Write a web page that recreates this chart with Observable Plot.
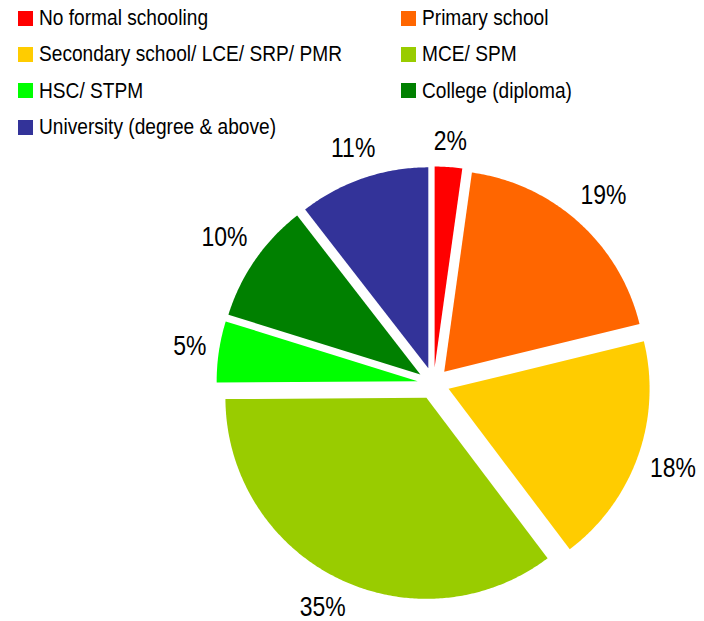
<!DOCTYPE html>
<html>
<head>
<meta charset="utf-8">
<script src="https://cdn.jsdelivr.net/npm/d3@7"></script>
<script src="https://cdn.jsdelivr.net/npm/@observablehq/plot@0.6"></script>
<style>
html, body { margin: 0; padding: 0; background: #fff; }
#chart { position: relative; width: 704px; height: 621px; overflow: hidden;
  font-family: "Liberation Sans", Arial, sans-serif; }
#legend { position: absolute; left: 18px; top: 0; display: grid;
  grid-template-columns: 383px 300px; grid-auto-rows: 36.3px; align-items: center;
  font-size: 22.5px; color: #000; }
.item { display: flex; align-items: center; white-space: nowrap; }
.sw { width: 15px; height: 15px; margin-right: 6px; flex: none; }
.lt { display: inline-block; transform: scaleX(0.85); transform-origin: 0 50%; }
</style>
</head>
<body>
<div id="chart"><div id="legend"></div></div>
<script>
// ---- data ----
const categories = [
  "No formal schooling",
  "Primary school",
  "Secondary school/ LCE/ SRP/ PMR",
  "MCE/ SPM",
  "HSC/ STPM",
  "College (diploma)",
  "University (degree & above)"
];
const values = [2.2, 19.0, 18.5, 35.2, 4.9, 9.7, 10.5];
const percentLabels = ["2%", "19%", "18%", "35%", "5%", "10%", "11%"];
const colors = ["#FF0000", "#FF6600", "#FFCC00", "#99CC00", "#00FF00", "#008000", "#333399"];

// ---- layout ----
const W = 704, H = 621;
const R = 201;            // pie radius in px
const CX = 433, CY = 383; // pie centre in px
const EXPLODE = 16;       // explosion in px
const LABEL_GAP = 11;
const LABEL_FS = 28;
const LABEL_DY = 8;
const SQUEEZE = 0.82;     // horizontal compression of the label font
const FONT = '"Liberation Sans", Arial, sans-serif';

const arcs = d3.pie().sort(null).value(d => d)(values);

// slice outlines in pie units (radius = 1, y up)
const pts = [];
const lbls = [];
arcs.forEach((a, i) => {
  const name = categories[i];
  const mid = (a.startAngle + a.endAngle) / 2;
  const e = EXPLODE / R;
  const ox = e * Math.sin(mid), oy = e * Math.cos(mid);
  pts.push({name, x: ox, y: oy});
  const n = Math.max(4, Math.ceil((a.endAngle - a.startAngle) / 0.01));
  for (let k = 0; k <= n; k++) {
    const t = a.startAngle + (a.endAngle - a.startAngle) * k / n;
    pts.push({name, x: ox + Math.sin(t), y: oy + Math.cos(t)});
  }
  pts.push({name, x: ox, y: oy});
  // label outside end, pushed out by half of its box
  const txt = percentLabels[i];
  let w = 0;
  for (const c of txt) w += (c === "%" ? 0.889 : 0.556);
  w *= LABEL_FS * SQUEEZE;
  const h = LABEL_FS * 0.95;
  const ext = (w / 2) * Math.abs(Math.sin(mid)) + (h / 2) * Math.abs(Math.cos(mid));
  const r = (R + LABEL_GAP + ext) / R;
  lbls.push({text: txt, x: ox + r * Math.sin(mid), y: oy + r * Math.cos(mid)});
});

const chart = Plot.plot({
  width: W,
  height: H,
  margin: 0,
  x: {domain: [-CX / R, (W - CX) / R], axis: null},
  y: {domain: [-(H - CY) / R, CY / R], axis: null},
  color: {domain: categories, range: colors},
  marks: [
    Plot.line(pts, {x: "x", y: "y", z: "name", fill: "name", stroke: "none", curve: "linear"}),
    Plot.text(lbls, {x: "x", y: "y", text: "text", dy: LABEL_DY, fontSize: LABEL_FS, fontFamily: FONT, fill: "#000"})
  ]
});
chart.style.position = "absolute";
chart.style.left = "0";
chart.style.top = "0";
chart.style.overflow = "visible";
// narrow the label glyphs around their anchor point
chart.querySelectorAll("text").forEach(t => {
  let tr = t.getAttribute("transform") || "";
  const x = t.getAttribute("x"), y = t.getAttribute("y");
  if (x != null || y != null) {
    tr += ` translate(${+x || 0},${+y || 0})`;
    t.removeAttribute("x");
    t.removeAttribute("y");
  }
  t.setAttribute("transform", `${tr} scale(${SQUEEZE},1)`);
});
document.getElementById("chart").prepend(chart);

// legend from the plot's colour scale
const cs = chart.scale("color");
const legend = document.getElementById("legend");
cs.domain.forEach((d, i) => {
  const item = document.createElement("div");
  item.className = "item";
  const sw = document.createElement("span");
  sw.className = "sw";
  sw.style.background = cs.range[i];
  const t = document.createElement("span");
  t.className = "lt";
  t.textContent = d;
  item.append(sw, t);
  legend.append(item);
});
</script>
</body>
</html>
